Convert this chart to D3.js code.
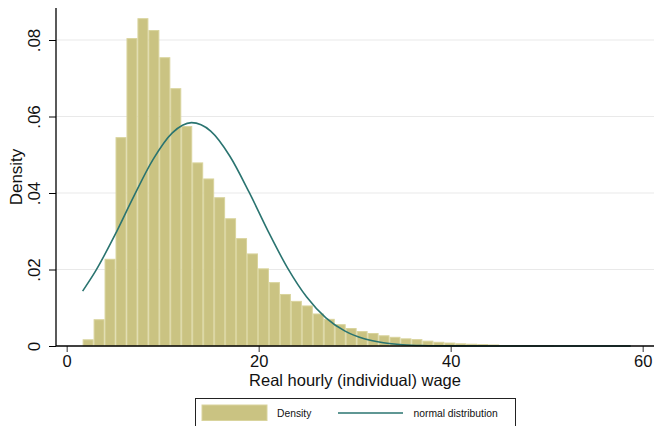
<!DOCTYPE html>
<html>
<head>
<meta charset="utf-8">
<script src="https://cdn.jsdelivr.net/npm/d3@7"></script>
<style>
  html, body { margin: 0; padding: 0; background: #fff; }
  svg { display: block; font-family: "Liberation Sans", Arial, Helvetica, sans-serif; }
</style>
</head>
<body>
<svg id="chart" width="654" height="426"></svg>
<script>
// ---- data ----
const binStart = 1.66;          // lower edge of first bin
const binWidth = 1.1417;        // bin width (wage units)
const densities = [
  0.00175, 0.0070, 0.0228, 0.0546, 0.0805, 0.0857, 0.0826, 0.0755, 0.0674, 0.0575,
  0.0480, 0.0438, 0.0389, 0.0334, 0.0282, 0.0242, 0.0203, 0.0167, 0.0136, 0.0118,
  0.0106, 0.0085, 0.0071, 0.0057, 0.0047, 0.0039, 0.0034, 0.0028, 0.0024, 0.0020,
  0.0018, 0.0014, 0.0011, 0.0009, 0.0007, 0.0006, 0.0005, 0.0004, 0.00025, 0.0002,
  0.0002, 0.00015, 0.00015, 0.00012, 0.0001, 0.0001, 0.0001, 0.00002, 0.00002, 0.00015
];
const normalX = [1.66, 3, 5, 7, 9, 11, 13, 15, 17, 19, 21, 23, 25, 27, 29, 31, 33, 35, 37, 40, 45, 50, 55, 58.75];
const normalY = [0.01436, 0.01957, 0.02891, 0.03919, 0.04877, 0.05570, 0.05839, 0.05618, 0.04962, 0.04021,
                 0.02991, 0.02043, 0.01280, 0.00736, 0.00389, 0.00188, 0.000837, 0.000342, 0.000128, 0.000025,
                 0.000001, 0, 0, 0];
const xTicks = [0, 20, 40, 60];
const yTicks = [0, 0.02, 0.04, 0.06, 0.08];
const yTickLabels = ["0", ".02", ".04", ".06", ".08"];
const xTitle = "Real hourly (individual) wage";
const yTitle = "Density";
const legendLabels = ["Density", "normal distribution"];

// ---- layout ----
const svg = d3.select("#chart");
const plotLeft = 56, plotRight = 654, plotTop = 8, plotBottom = 346;
const x = d3.scaleLinear().domain([0, 60]).range([66.7, 642.7]);
const y = d3.scaleLinear().domain([0, 0.02]).range([plotBottom, plotBottom - 76.5]);

const barFill = "#cac382", barEdge = "#d9d49d", lineColor = "#2a7470";

// gridlines
svg.append("g").selectAll("line").data(yTicks.filter(d => d > 0)).join("line")
  .attr("x1", plotLeft).attr("x2", plotRight)
  .attr("y1", d => y(d)).attr("y2", d => y(d))
  .attr("stroke", "#e9e9e9").attr("stroke-width", 1.2);

// bars
const bins = densities.map((d, i) => ({ x0: binStart + i * binWidth, x1: binStart + (i + 1) * binWidth, d }));
svg.append("g").selectAll("rect").data(bins).join("rect")
  .attr("x", b => x(b.x0) + 0.5)
  .attr("width", b => x(b.x1) - x(b.x0) - 1)
  .attr("y", b => y(b.d) + 0.5)
  .attr("height", b => Math.max(0, y(0) - y(b.d) - 0.5))
  .attr("fill", barFill)
  .attr("stroke", barEdge)
  .attr("stroke-width", 1);

// normal curve
const pts = normalX.map((v, i) => [v, normalY[i]]);
svg.append("path").datum(pts)
  .attr("d", d3.line().x(p => x(p[0])).y(p => y(p[1])).curve(d3.curveMonotoneX))
  .attr("fill", "none").attr("stroke", lineColor).attr("stroke-width", 1.6);

// x axis
const xAxis = d3.axisBottom(x).tickValues(xTicks).tickSize(6).tickPadding(4).tickFormat(d3.format("d"));
const gx = svg.append("g").attr("transform", `translate(0,${plotBottom})`).call(xAxis);
gx.select(".domain").remove();
gx.selectAll(".tick line").attr("stroke", "#555").attr("stroke-width", 1.2);
gx.selectAll(".tick text").attr("font-size", 16.5).attr("fill", "#111")
  .attr("font-family", "Liberation Sans, Arial, sans-serif").attr("dy", 0).attr("y", 21);
svg.append("line").attr("x1", plotLeft).attr("x2", plotRight)
  .attr("y1", plotBottom).attr("y2", plotBottom).attr("stroke", "#000").attr("stroke-width", 1.3);

// y axis
const yAxis = d3.axisLeft(y).tickValues(yTicks).tickSize(7).tickFormat((d, i) => yTickLabels[i]);
const gy = svg.append("g").attr("transform", `translate(${plotLeft},0)`).call(yAxis);
gy.select(".domain").remove();
gy.selectAll(".tick line").attr("stroke", "#000").attr("stroke-width", 1);
gy.selectAll(".tick text").attr("font-size", 17).attr("fill", "#111")
  .attr("font-family", "Liberation Sans, Arial, sans-serif")
  .attr("transform", "rotate(-90)").attr("x", 0).attr("y", -16).attr("dy", 0)
  .attr("text-anchor", "middle");
svg.append("line").attr("x1", plotLeft).attr("x2", plotLeft)
  .attr("y1", plotTop).attr("y2", plotBottom).attr("stroke", "#000").attr("stroke-width", 1.3);

// axis titles
svg.append("text").attr("x", (plotLeft + plotRight) / 2).attr("y", 385.5)
  .attr("text-anchor", "middle").attr("font-size", 16.5).attr("fill", "#111").text(xTitle);
svg.append("text").attr("transform", `translate(22,${(plotTop + plotBottom) / 2}) rotate(-90)`)
  .attr("text-anchor", "middle").attr("font-size", 17).attr("fill", "#111").text(yTitle);

// legend
const lg = svg.append("g");
lg.append("rect").attr("x", 195.5).attr("y", 398.5).attr("width", 320).attr("height", 40)
  .attr("fill", "#fff").attr("stroke", "#222").attr("stroke-width", 1);
lg.append("rect").attr("x", 202).attr("y", 405).attr("width", 65).attr("height", 15.5)
  .attr("fill", barFill).attr("stroke", barEdge).attr("stroke-width", 1);
lg.append("text").attr("x", 277).attr("y", 417).attr("font-size", 10.3).attr("fill", "#111").text(legendLabels[0]);
lg.append("line").attr("x1", 338).attr("x2", 403).attr("y1", 413).attr("y2", 413)
  .attr("stroke", lineColor).attr("stroke-width", 1.6);
lg.append("text").attr("x", 413.5).attr("y", 417).attr("font-size", 10.3).attr("fill", "#111").text(legendLabels[1]);
</script>
</body>
</html>
